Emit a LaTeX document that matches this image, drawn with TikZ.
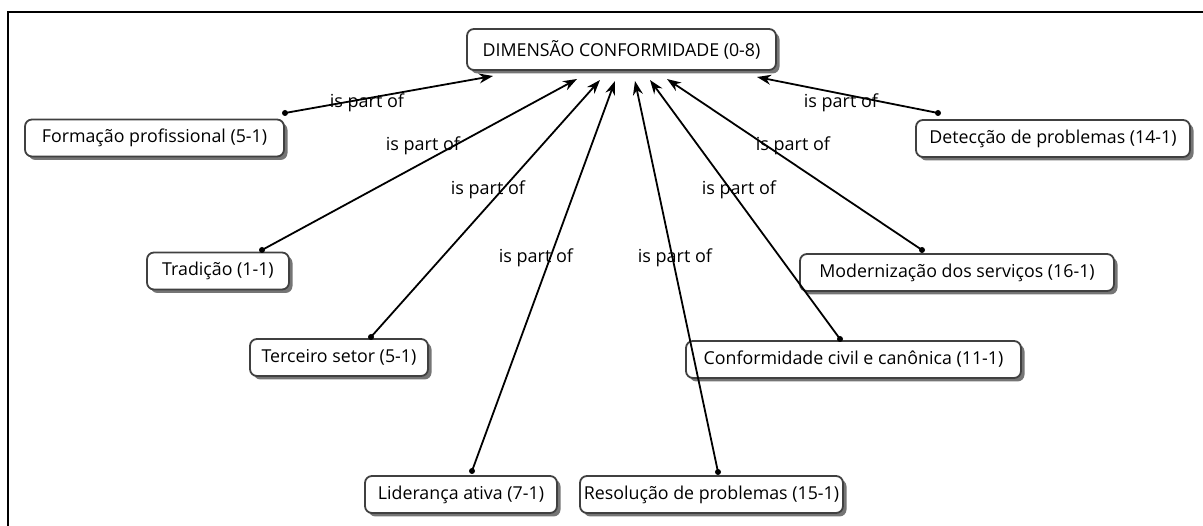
\documentclass[tikz,border=0pt]{standalone}
\usepackage{fontspec}
\setmainfont{Open Sans}
\usetikzlibrary{arrows.meta,shadows}
\begin{document}
\begin{tikzpicture}[x=1pt,y=-1pt,
  concept/.style={draw=black!75, line width=1.8pt, rounded corners=7pt, fill=white,
    inner sep=0pt, minimum height=37pt, align=center,
    font=\fontsize{17.8}{21}\selectfont,
    drop shadow={shadow xshift=3.5pt, shadow yshift=-3.5pt, fill=black!60, opacity=0.9}},
  rootbox/.style={concept, minimum height=41pt},
  dotpt/.style={circle, fill=black, inner sep=0pt, minimum size=6pt},
  link/.style={line width=1.8pt, -{Stealth[length=14pt,width=10pt]}},
  relname/.style={font=\fontsize{18}{21}\selectfont, inner sep=0pt}
]
\useasboundingbox (0,0) rectangle (1203,526);
% frame lines
\draw[line width=2pt] (1203,12) -- (8,12) -- (8,526);

% concepts
\node[rootbox, minimum width=309pt] (root) at (621.5,49.5) {DIMENSÃO CONFORMIDADE (0-8)};
\node[concept, minimum width=259pt] (form) at (154.5,138) {Formação profissional (5-1)};
\node[concept, minimum width=274pt] (dete) at (1053,138.5) {Detecção de problemas (14-1)};
\node[concept, minimum width=142pt] (trad) at (218,271) {Tradição (1-1)};
\node[concept, minimum width=314pt] (mode) at (957,272.5) {Modernização dos serviços (16-1)};
\node[concept, minimum width=178pt] (terc) at (339,357.5) {Terceiro setor (5-1)};
\node[concept, minimum width=335pt] (conf) at (853.5,359.5) {Conformidade civil e canônica (11-1)};
\node[concept, minimum width=192pt] (lide) at (461,494.5) {Liderança ativa (7-1)};
\node[concept, minimum width=263pt] (reso) at (711.5,494.5) {Resolução de problemas (15-1)};

% link start points on the concepts
\node[dotpt] (dform) at (285,113) {};
\node[dotpt] (ddete) at (938,113) {};
\node[dotpt] (dtrad) at (262,250) {};
\node[dotpt] (dmode) at (922,250) {};
\node[dotpt] (dterc) at (371,337) {};
\node[dotpt] (dconf) at (840,339) {};
\node[dotpt] (dlide) at (472,471) {};
\node[dotpt] (dreso) at (718,472) {};

% arrow tips under the root concept
\coordinate (tform) at (493,76);
\coordinate (tdete) at (757,77);
\coordinate (ttrad) at (577,79);
\coordinate (tterc) at (600,80);
\coordinate (tlide) at (615,81);
\coordinate (treso) at (635,81);
\coordinate (tconf) at (650,80);
\coordinate (tmode) at (667,79);

\foreach \n in {form,dete,trad,mode,terc,conf,lide,reso}
  \draw[link] (d\n.center) -- (t\n);

% link labels
\node[relname] (lform) at (367,103) {is part of};
\node[relname] (ldete) at (841,103) {is part of};
\node[relname] (ltrad) at (423,146) {is part of};
\node[relname] (lmode) at (793,146) {is part of};
\node[relname] (lterc) at (488,190) {is part of};
\node[relname] (lconf) at (739,190) {is part of};
\node[relname] (llide) at (536,258) {is part of};
\node[relname] (lreso) at (675,258) {is part of};
\end{tikzpicture}
\end{document}
